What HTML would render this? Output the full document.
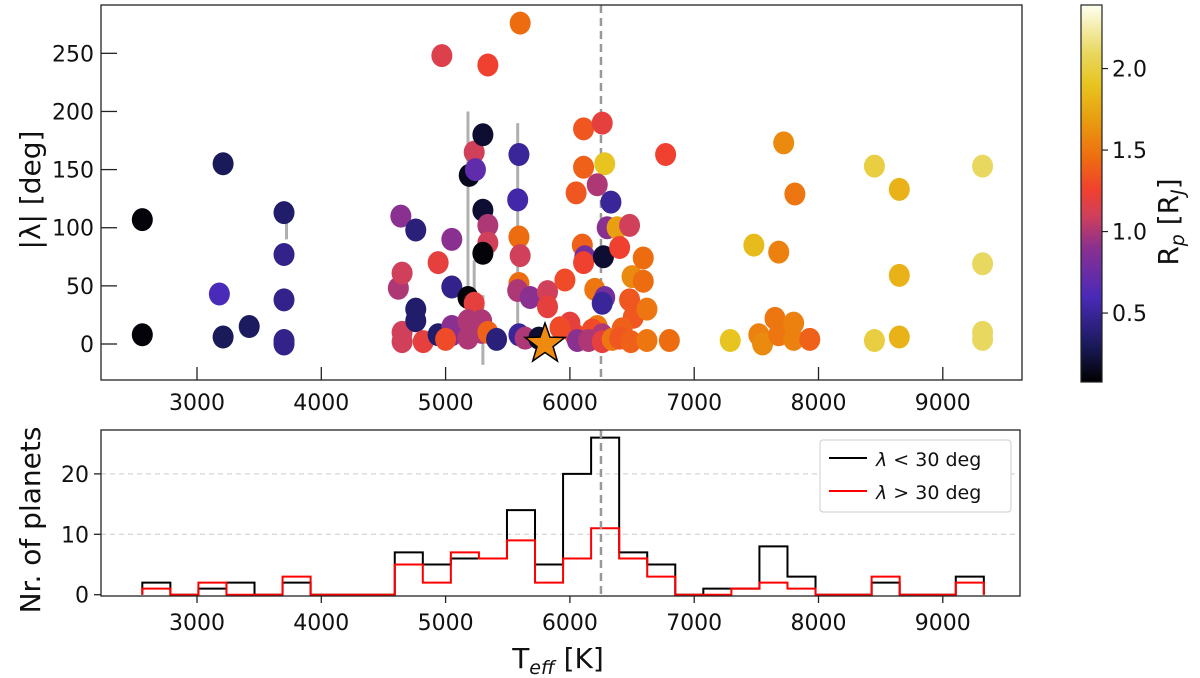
<!DOCTYPE html>
<html><head><meta charset="utf-8">
<style>
html,body{margin:0;padding:0;background:#fff;}
svg{display:block;font-family:"DejaVu Sans","Liberation Sans",sans-serif;}
</style></head>
<body>
<svg id="fig" width="1200" height="678" viewBox="0 0 1200 678">
  <defs>
    <linearGradient id="cmap" x1="0" y1="1" x2="0" y2="0"></linearGradient>
    <clipPath id="topclip"><rect x="101" y="5" width="921" height="375"/></clipPath>
  </defs>
  <g id="topPanel"></g>
  <g id="cbar"></g>
  <g id="bot"></g>
</svg>
<script>
// ---------- DATA ----------
const tempK = [2560,2560,3210,3180,3210,3420,3700,3700,3700,3700,3700,
4640,4760,4620,4650,4650,4650,4760,4760,4820,4940,4940,5050,5050,5050,5050,5000,5180,5190,5230,5240,5230,5180,5180,5300,5300,5340,5340,5300,5290,5290,5340,5410,
5590,5580,5590,5600,5590,5580,5680,5590,5640,5750,5820,5820,5960,6050,6110,6260,6110,6280,6220,6330,6300,6380,6480,
6100,6120,6110,6270,6400,6500,6590,6590,6200,6280,6260,6480,6510,6420,6220,6180,6260,6040,6000,5920,6060,6150,6260,6340,6400,6490,6620,6620,6800,6770,
7290,7480,7520,7550,7650,7680,7680,7720,7800,7800,7810,7930,8450,8450,8650,8650,8650,9320,9320,9320,9320,
4970,5340,5600];
const lambdaDeg = [107,8,155,43,6,15,113,77,38,3,0,
110,98,48,61,10,2,30,20,2,70,8,90,49,15,8,4,40,145,165,150,35,20,5,180,115,102,87,78,20,10,10,4,
163,124,92,76,52,46,40,8,5,5,45,32,55,130,185,190,152,155,137,122,100,100,102,
85,75,70,75,83,58,74,54,47,40,35,38,23,13,15,12,8,8,18,14,3,3,2,4,5,2,30,3,3,163,
3,85,8,0,22,8,79,173,18,4,129,4,153,3,133,59,6,153,69,10,4,
248,240,276];
const radiusRj = [0.1,0.1,0.3,0.6,0.3,0.32,0.35,0.45,0.45,0.45,0.45,
0.9,0.4,1.0,1.1,1.1,1.1,0.35,0.35,1.2,1.2,0.35,0.9,0.45,0.9,0.9,1.3,0.1,0.15,1.1,0.7,1.2,1.0,1.0,0.2,0.2,1.0,1.1,0.1,1.0,1.0,1.4,0.4,
0.5,0.55,1.45,1.1,1.45,1.0,0.9,0.5,1.0,0.2,1.1,1.2,1.3,1.35,1.35,1.2,1.4,1.9,1.0,0.5,0.9,1.7,1.1,
1.4,0.8,1.25,0.2,1.25,1.6,1.45,1.45,1.5,0.8,0.5,1.35,1.35,1.4,1.5,1.3,1.0,1.3,1.2,1.3,0.9,1.0,1.2,1.5,1.35,1.4,1.5,1.5,1.45,1.25,
1.9,1.85,1.55,1.6,1.5,1.5,1.55,1.6,1.55,1.55,1.5,1.4,2.0,2.0,1.8,1.8,1.8,2.1,2.1,2.1,2.1,
1.15,1.25,1.45];
const errT = [5180,5300,5580,3720,5230,6250];
const errLo = [30,-18,0,90,46,128];
const errHi = [200,42,190,108,72,142];
const binStart = 2560, binWidth = 225.67;
const countsAligned = [2,0,1,2,0,2,0,0,0,7,5,6,6,14,5,20,26,7,5,0,1,1,8,3,0,0,2,0,0,3];
const countsMisaligned = [1,0,2,0,0,3,0,0,0,5,2,7,6,9,2,6,11,6,3,0,0,1,2,1,0,0,3,0,0,2];
const xTicks = [3000,4000,5000,6000,7000,8000,9000];
const yTicksTop = [0,50,100,150,200,250];
const yTicksBot = [0,10,20];
const cbTicks = [0.5,1.0,1.5,2.0];
const kraftT = 6250;
const starT = 5800, starL = 0;

// ---------- SCALES ----------
const X = t => 197 + (t-3000)*0.1243;
const Ytop = l => 344 - l*1.1627;
const Ybot = n => 594.7 - n*6.04;
const CBmin = 0.077, CBmax = 2.39;
const Ycb = v => 382 - (v-CBmin)/(CBmax-CBmin)*377;
const stops = [[0.077,[0,0,0]],[0.3,[26,26,90]],[0.6,[74,42,184]],[0.9,[138,48,144]],[1.1,[208,64,90]],[1.25,[240,64,48]],[1.45,[238,108,16]],[1.7,[232,160,16]],[1.9,[232,196,32]],[2.1,[232,216,96]],[2.39,[255,255,240]]];
function cmap(v){
  if(v<=stops[0][0]) return 'rgb(0,0,0)';
  for(let i=1;i<stops.length;i++){
    if(v<=stops[i][0]){const a=stops[i-1],b=stops[i];const f=(v-a[0])/(b[0]-a[0]);
      const c=a[1].map((x,j)=>Math.round(x+(b[1][j]-x)*f));return 'rgb('+c.join(',')+')';}
  }
  return 'rgb(255,255,240)';
}
const NS='http://www.w3.org/2000/svg';
function mk(tag,attrs,parent){const e=document.createElementNS(NS,tag);for(const k in attrs)e.setAttribute(k,attrs[k]);parent.appendChild(e);return e;}

const grad=document.getElementById('cmap');
stops.forEach(s=>{mk('stop',{offset:((s[0]-CBmin)/(CBmax-CBmin)*100)+'%','stop-color':'rgb('+s[1].join(',')+')'},grad);});

const TF=22, AF=28;
// ---------- TOP PANEL ----------
const topG=document.getElementById('topPanel');
const plot=mk('g',{'clip-path':'url(#topclip)'},topG);


const kl=mk('line',{x1:X(kraftT),x2:X(kraftT),y1:5,y2:380,stroke:'#999',"stroke-width":2.5,"stroke-dasharray":"8,5"},plot);


errT.forEach((t,i)=>{
  const e=mk('line',{x1:X(t),x2:X(t),y1:Ytop(errHi[i]),y2:Ytop(errLo[i]),stroke:'#b0b0b0','stroke-width':3},plot);
  
  
});
tempK.forEach((t,i)=>{
  const c=mk('ellipse',{cx:X(t),cy:Ytop(lambdaDeg[i]),rx:10.5,ry:11.5,fill:cmap(radiusRj[i])},plot);
  
  
});
(function(){
  const cx=X(starT),cy=Ytop(starL),R=21,r=8.5;let p=[];
  for(let k=0;k<10;k++){const a=-Math.PI/2+k*Math.PI/5;const rr=k%2?r:R;p.push((cx+rr*Math.cos(a)).toFixed(1)+','+(cy+rr*Math.sin(a)).toFixed(1));}
  const s=mk('polygon',{points:p.join(' '),fill:'#ee8a10',stroke:'#000','stroke-width':1.5},plot);
  
  
})();
const fr=mk('rect',{x:101,y:5,width:921,height:375,fill:'none',stroke:'#222','stroke-width':1.3},topG);


xTicks.forEach(t=>{mk('line',{x1:X(t),x2:X(t),y1:380,y2:367,stroke:'#222','stroke-width':1.3},topG);
  const tl=mk('text',{x:X(t),y:410,'font-size':TF,'text-anchor':'middle',fill:'#111'},topG);tl.textContent=t;
  
  });
yTicksTop.forEach(v=>{mk('line',{x1:101,x2:117,y1:Ytop(v),y2:Ytop(v),stroke:'#222','stroke-width':1.3},topG);
  const tl=mk('text',{x:94,y:Ytop(v)+8,'font-size':TF,'text-anchor':'end',fill:'#111'},topG);tl.textContent=v;
  
  });
const yl=mk('text',{x:0,y:0,'font-size':AF,'text-anchor':'middle',fill:'#111',transform:'translate(40,190) rotate(-90)'},topG);
yl.textContent='|λ| [deg]';



// ---------- COLORBAR ----------
const cb=document.getElementById('cbar');
mk('rect',{x:1081,y:5,width:21,height:377,fill:'url(#cmap)',stroke:'#222','stroke-width':1.2},cb);
cbTicks.forEach(v=>{mk('line',{x1:1102,x2:1108,y1:Ycb(v),y2:Ycb(v),stroke:'#222','stroke-width':1.2},cb);
  const tl=mk('text',{x:1112,y:Ycb(v)+8,'font-size':TF,fill:'#111'},cb);tl.textContent=v.toFixed(1);
  
  });
const cl=mk('text',{x:0,y:0,'font-size':AF,'text-anchor':'middle',fill:'#111',transform:'translate(1178,222) rotate(-90)'},cb);
cl.innerHTML='R<tspan font-size="19" font-style="italic" dy="6">p</tspan><tspan dy="-6"> [R</tspan><tspan font-size="19" font-style="italic" dy="6">J</tspan><tspan dy="-6">]</tspan>';



// ---------- BOTTOM PANEL ----------
const bot=document.getElementById('bot');
[10,20].forEach(v=>{mk('line',{x1:101,x2:1020,y1:Ybot(v),y2:Ybot(v),stroke:'#ccc','stroke-width':1,'stroke-dasharray':'5,4'},bot);});
function stepPath(counts){
  let d='';
  counts.forEach((c,i)=>{const x0=X(binStart+i*binWidth),x1=X(binStart+(i+1)*binWidth),y=Ybot(c);
    d+=(i===0?('M'+x0+','+Ybot(0)+' L'+x0+','+y):(' L'+x0+','+y))+' L'+x1+','+y;});
  d+=' L'+X(binStart+counts.length*binWidth)+','+Ybot(0);return d;
}
const h1=mk('path',{d:stepPath(countsAligned),fill:'none',stroke:'#000','stroke-width':2},bot);


const h2=mk('path',{d:stepPath(countsMisaligned),fill:'none',stroke:'#ff0000','stroke-width':2},bot);


const kl2=mk('line',{x1:X(kraftT),x2:X(kraftT),y1:430,y2:596,stroke:'#999','stroke-width':2.5,'stroke-dasharray':'8,5'},bot);


const fr2=mk('rect',{x:101,y:430,width:919,height:166,fill:'none',stroke:'#222','stroke-width':1.3},bot);


xTicks.forEach(t=>{mk('line',{x1:X(t),x2:X(t),y1:596,y2:603,stroke:'#222','stroke-width':1.3},bot);
  const tl=mk('text',{x:X(t),y:630,'font-size':TF,'text-anchor':'middle',fill:'#111'},bot);tl.textContent=t;
  
  });
yTicksBot.forEach(v=>{mk('line',{x1:94,x2:101,y1:Ybot(v),y2:Ybot(v),stroke:'#222','stroke-width':1.3},bot);
  const tl=mk('text',{x:89,y:Ybot(v)+8,'font-size':TF,'text-anchor':'end',fill:'#111'},bot);tl.textContent=v;
  
  });
const xl=mk('text',{x:558,y:668,'font-size':AF,'text-anchor':'middle',fill:'#111'},bot);
xl.innerHTML='T<tspan font-size="19" font-style="italic" dy="6">eff</tspan><tspan dy="-6"> [K]</tspan>';


const yl2=mk('text',{x:0,y:0,'font-size':AF,'text-anchor':'middle',fill:'#111',transform:'translate(40,520) rotate(-90)'},bot);
yl2.textContent='Nr. of planets';


const lg=mk('g',{},bot);


mk('rect',{x:820,y:440,width:191,height:72,rx:3,fill:'#fff',stroke:'#ccc','stroke-width':1},lg);
mk('line',{x1:829,x2:867,y1:458,y2:458,stroke:'#000','stroke-width':2},lg);
mk('line',{x1:829,x2:867,y1:491,y2:491,stroke:'#f00','stroke-width':2},lg);
const t1=mk('text',{x:876,y:466,'font-size':19,fill:'#111'},lg);t1.innerHTML='<tspan font-style="italic">λ</tspan> &lt; 30 deg';


const t2=mk('text',{x:876,y:499,'font-size':19,fill:'#111'},lg);t2.innerHTML='<tspan font-style="italic">λ</tspan> &gt; 30 deg';


</script>
</body></html>
